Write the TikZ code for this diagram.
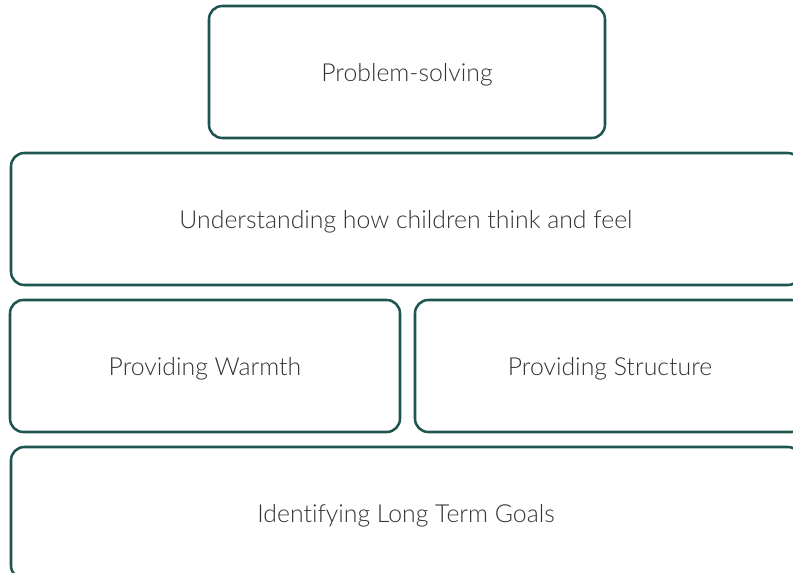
\documentclass[tikz,border=0pt]{standalone}
\usepackage{fontspec}
\setmainfont{Lato Light}[Ligatures=NoCommon]
\definecolor{boxteal}{HTML}{1E5550}
\definecolor{boxtext}{HTML}{333333}

\begin{document}
\begin{tikzpicture}[x=0.75pt, y=-0.75pt,
  box/.style={draw=boxteal, line width=1.9pt, rounded corners=10pt,
    minimum height=132*0.75pt, inner sep=0pt, text depth=0pt, text=boxtext, font=\fontsize{18.6}{22}\selectfont},
  wide/.style={box, minimum width=790*0.75pt},
  half/.style={box, minimum width=390*0.75pt}]
\useasboundingbox (0,0) rectangle (793,573);
\clip (0,0) rectangle (793,573);
\node[box, minimum width=396*0.75pt] (solve) at (407,72) {Problem-solving};
\node[wide] (understand) at (406,219) {Understanding how children think and feel};
\node[half] (warmth) at (205,366) {Providing Warmth};
\node[half] (structure) at (610,366) {Providing Structure};
\node[wide] (goals) at (406,513) {Identifying Long Term Goals};
\end{tikzpicture}
\end{document}
